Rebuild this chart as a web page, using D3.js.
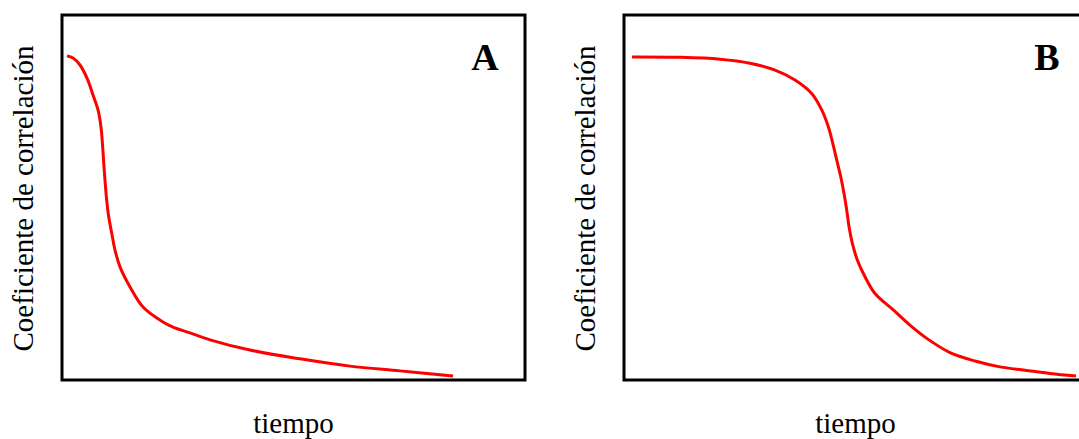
<!DOCTYPE html>
<html>
<head>
<meta charset="utf-8">
<script src="https://cdn.jsdelivr.net/npm/d3@7"></script>
<style>
  html, body { margin: 0; padding: 0; background: #fff; }
  svg { display: block; }
</style>
</head>
<body>
<svg id="chart" width="1079" height="439"></svg>
<script>
// Panel letters and axis titles
const panelLabels = ["A", "B"];
const yTitle = "Coeficiente de correlación";
const xTitle = "tiempo";

// Panel A: fast early decay (time in arbitrary units 0-100, correlation 0-1)
const timeA = [1.08, 2.38, 3.89, 5.40, 6.70, 7.78, 8.42, 8.79, 9.07, 9.35, 9.65, 10.09, 10.73, 11.45, 12.53, 14.69, 17.49, 21.81, 23.97, 27.65, 31.97, 40.60, 51.40, 62.20, 73.00, 84.45];
const corrA = [0.888, 0.882, 0.863, 0.827, 0.781, 0.740, 0.693, 0.638, 0.584, 0.537, 0.493, 0.447, 0.403, 0.356, 0.310, 0.255, 0.200, 0.159, 0.145, 0.129, 0.110, 0.082, 0.058, 0.038, 0.025, 0.011];

// Panel B: plateau followed by a sigmoidal drop
const timeB = [1.73, 12.10, 20.73, 27.21, 32.61, 36.93, 40.54, 42.70, 44.13, 45.08, 45.94, 46.81, 47.52, 48.10, 48.60, 49.31, 50.39, 52.05, 54.21, 58.16, 62.14, 65.38, 70.41, 75.81, 81.21, 86.61, 92.01, 97.62];
const corrB = [0.885, 0.884, 0.879, 0.868, 0.849, 0.822, 0.785, 0.740, 0.694, 0.649, 0.603, 0.557, 0.511, 0.466, 0.420, 0.375, 0.329, 0.283, 0.237, 0.192, 0.146, 0.114, 0.075, 0.052, 0.036, 0.027, 0.018, 0.011];

const serif = "'Liberation Serif', 'Times New Roman', Times, serif";
const svg = d3.select("#chart");

const panels = [
  { left: 62,  label: panelLabels[0], t: timeA, c: corrA },
  { left: 624, label: panelLabels[1], t: timeB, c: corrB }
];
const boxW = 463, boxTop = 15, boxBottom = 380;

panels.forEach(p => {
  const x = d3.scaleLinear().domain([0, 100]).range([p.left, p.left + boxW]);
  const y = d3.scaleLinear().domain([0, 1]).range([boxBottom, boxTop]);
  const g = svg.append("g");

  // frame
  g.append("rect")
    .attr("x", x(0)).attr("y", y(1))
    .attr("width", x(100) - x(0)).attr("height", y(0) - y(1))
    .attr("fill", "none").attr("stroke", "#000").attr("stroke-width", 3);

  // curve
  const pts = p.t.map((t, i) => [t, p.c[i]]);
  const line = d3.line()
    .x(d => x(d[0])).y(d => y(d[1]))
    .curve(d3.curveCatmullRom.alpha(0.5));
  g.append("path")
    .attr("d", line(pts))
    .attr("fill", "none").attr("stroke", "#ff0000").attr("stroke-width", 3)
    .attr("stroke-linecap", "butt").attr("stroke-linejoin", "round");

  // panel letter
  g.append("text")
    .attr("x", p.left + boxW - 40).attr("y", 70)
    .attr("text-anchor", "middle")
    .attr("font-family", serif)
    .attr("font-weight", "bold").attr("font-size", 38)
    .text(p.label);

  // x title
  g.append("text")
    .attr("x", (x(0) + x(100)) / 2).attr("y", 433)
    .attr("text-anchor", "middle")
    .attr("font-family", serif).attr("font-size", 29)
    .text(xTitle);

  // y title
  g.append("text")
    .attr("transform", `translate(${p.left - 29},${(boxTop + boxBottom) / 2 + 1}) rotate(-90)`)
    .attr("text-anchor", "middle")
    .attr("font-family", serif).attr("font-size", 29)
    .text(yTitle);
});
</script>
</body>
</html>
